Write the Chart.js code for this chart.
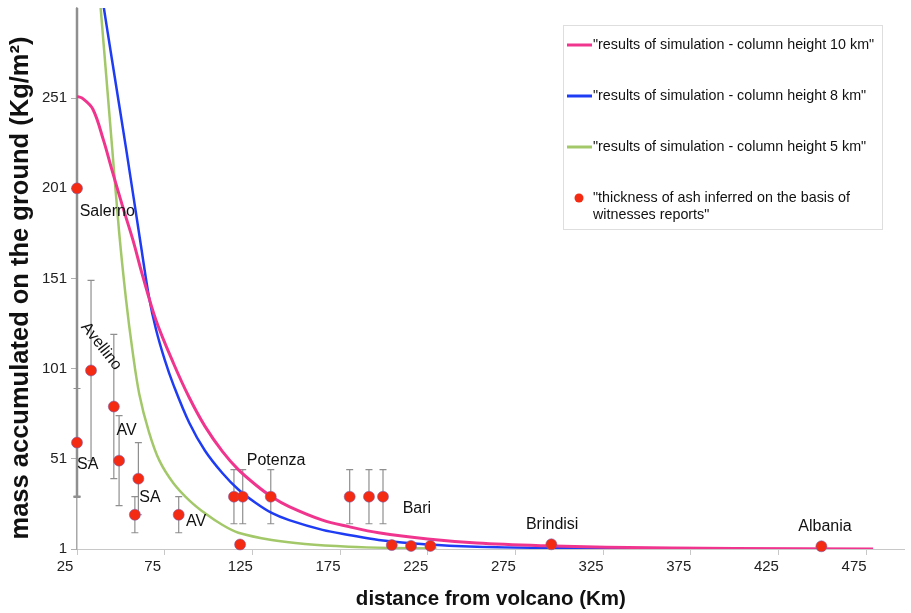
<!DOCTYPE html>
<html>
<head>
<meta charset="utf-8">
<script src="https://cdn.jsdelivr.net/npm/chart.js@4.4.0/dist/chart.umd.min.js"></script>
<style>
  html, body { margin: 0; padding: 0; background: #fff; }
  canvas { display: block; }
</style>
</head>
<body>
<canvas id="chart" width="911" height="613"></canvas>
<script>
// simulated deposit, column height 10 km
const sim10Distance = [25, 28, 34, 40, 45, 51, 57, 62, 70, 80, 89, 98, 108, 117, 127, 136, 146, 165, 180, 197, 225, 253, 291, 327, 400, 479];
const sim10Mass = [252, 251, 245, 228, 211, 191, 172, 154, 128, 104, 85, 69, 55, 45, 36.5, 30, 24.5, 17, 13.4, 10, 6.5, 4.3, 2.8, 2, 1.3, 1];

// column height 8 km
const sim8Distance = [37, 40, 45, 53, 61.5, 66, 70, 75, 80, 89, 98, 108, 117, 127, 136, 146, 165, 180, 197, 225, 253, 291, 330, 400];
const sim8Mass = [322, 303, 272, 223, 169, 141, 123, 106, 92, 71, 55.5, 43, 34, 26.5, 21, 17, 11.6, 8.8, 6, 3.5, 2.3, 1.6, 1.3, 1.1];

// column height 5 km
const sim5Distance = [36.8, 38.4, 45, 49, 53, 56.5, 60.5, 66, 72, 80, 89, 98, 108, 117, 136, 155, 180, 205, 230];
const sim5Mass = [320, 302, 224, 177, 139, 112, 87, 66, 50, 37.5, 28, 20.8, 14.3, 10, 6, 3.8, 2.3, 1.6, 1.3];

// witnesses reports (value +/- error)
const obsDistance = [25, 25, 33, 46, 49, 58, 60, 83, 114.5, 118, 119.5, 135.5, 180.5, 191.5, 199.5, 204.5, 215.5, 226.5, 295.5, 449.5];
const obsMass = [201, 60, 100, 80, 50, 20, 40, 20, 30, 3.5, 30, 30, 30, 30, 30, 3.2, 2.7, 2.7, 3.6, 2.5];
const obsError = [171, 30, 50, 40, 25, 10, 20, 10, 15, 0, 15, 15, 15, 15, 15, 0, 0, 0, 0, 0];

const xTicks = [25, 75, 125, 175, 225, 275, 325, 375, 425, 475];
const yTicks = [1, 51, 101, 151, 201, 251];

const seriesNames = [
  '"thickness of ash inferred on the basis of\nwitnesses reports"',
  '"results of simulation - column height 10 km"',
  '"results of simulation - column height 8 km"',
  '"results of simulation - column height 5 km"'
];

const yTitle = 'mass accumulated on the ground (Kg/m²)';

const family = '"Liberation Sans", Arial, Helvetica, sans-serif';

const toPoints = (xs, ys) => xs.map((v, i) => ({ x: v, y: ys[i] }));

const errorBars = {
  id: 'errorBars',
  beforeDatasetsDraw(chart) {
    const { ctx, chartArea, scales: { x, y } } = chart;
    ctx.save();
    ctx.beginPath();
    ctx.rect(chartArea.left - 10, chartArea.top, chartArea.width + 20, chartArea.height);
    ctx.clip();
    ctx.strokeStyle = '#8f8f8f';
    obsDistance.forEach((d, i) => {
      const e = obsError[i];
      if (!e) return;
      const px = x.getPixelForValue(d);
      const top = y.getPixelForValue(obsMass[i] + e);
      const bot = y.getPixelForValue(obsMass[i] - e);
      ctx.lineWidth = e > 100 ? 2.5 : 1.2;
      ctx.beginPath();
      ctx.moveTo(px, top); ctx.lineTo(px, bot);
      ctx.moveTo(px - 3.5, top); ctx.lineTo(px + 3.5, top);
      ctx.moveTo(px - 3.5, bot); ctx.lineTo(px + 3.5, bot);
      ctx.stroke();
    });
    ctx.restore();
  }
};

const placeNames = {
  id: 'placeNames',
  afterDatasetsDraw(chart, args, opts) {
    const { ctx, scales: { x, y } } = chart;
    ctx.save();
    ctx.font = '16px ' + family;
    ctx.fillStyle = '#111';
    ctx.textBaseline = 'middle';
    opts.tags.forEach(t => {
      ctx.save();
      ctx.translate(x.getPixelForValue(t.x), y.getPixelForValue(t.y));
      ctx.rotate((t.angle || 0) * Math.PI / 180);
      ctx.textAlign = t.angle ? 'center' : 'left';
      ctx.fillText(t.text, 0, 0);
      ctx.restore();
    });
    ctx.restore();
  }
};

// y title drawn by hand: in the original it sits a bit below the axis middle
const sideTitle = {
  id: 'sideTitle',
  afterDraw(chart) {
    const ctx = chart.ctx;
    ctx.save();
    ctx.translate(21, 288);
    ctx.rotate(-Math.PI / 2);
    ctx.font = 'bold 25.5px ' + family;
    ctx.fillStyle = '#111';
    ctx.textAlign = 'center';
    ctx.textBaseline = 'middle';
    ctx.fillText(yTitle, 0, 0);
    ctx.restore();
  }
};

const boxLegend = {
  id: 'boxLegend',
  afterDraw(chart) {
    const ctx = chart.ctx;
    const ds = chart.data.datasets;
    ctx.save();
    ctx.fillStyle = '#fff';
    ctx.fillRect(563, 25, 320, 205);
    ctx.strokeStyle = '#dedede';
    ctx.lineWidth = 1;
    ctx.strokeRect(563.5, 25.5, 319, 204);
    ctx.font = '14.3px ' + family;
    ctx.fillStyle = '#111';
    ctx.textBaseline = 'middle';
    ctx.textAlign = 'left';
    const rows = [45, 96, 147];
    [1, 2, 3].forEach((k, i) => {
      ctx.strokeStyle = ds[k].borderColor;
      ctx.lineWidth = 3;
      ctx.beginPath();
      ctx.moveTo(567, rows[i]);
      ctx.lineTo(592, rows[i]);
      ctx.stroke();
      ctx.fillText(ds[k].label, 593, rows[i]);
    });
    ctx.fillStyle = ds[0].backgroundColor;
    ctx.beginPath();
    ctx.arc(579, 198, 4.5, 0, Math.PI * 2);
    ctx.fill();
    ctx.fillStyle = '#111';
    ds[0].label.split('\n').forEach((line, i) => ctx.fillText(line, 593, 198 + i * 17));
    ctx.restore();
  }
};

const lineStyle = {
  showLine: true,
  pointRadius: 0,
  tension: 0.35,
  clip: 0
};

const ctx = document.getElementById('chart').getContext('2d');
new Chart(ctx, {
  type: 'scatter',
  data: {
    datasets: [
      {
        label: seriesNames[0],
        data: toPoints(obsDistance, obsMass),
        backgroundColor: '#f52a12',
        borderColor: 'rgba(120,90,170,0.7)',
        borderWidth: 0.8,
        pointRadius: 5.5,
        clip: false
      },
      Object.assign({
        label: seriesNames[1],
        data: toPoints(sim10Distance, sim10Mass),
        borderColor: '#f0358f',
        borderWidth: 3
      }, lineStyle),
      Object.assign({
        label: seriesNames[2],
        data: toPoints(sim8Distance, sim8Mass),
        borderColor: '#1f3cf5',
        borderWidth: 2.5
      }, lineStyle),
      Object.assign({
        label: seriesNames[3],
        data: toPoints(sim5Distance, sim5Mass),
        borderColor: '#a3c86a',
        borderWidth: 2.5
      }, lineStyle)
    ]
  },
  options: {
    responsive: false,
    animation: false,
    layout: { padding: { top: 8, right: 0, left: 0, bottom: 0 } },
    scales: {
      x: {
        type: 'linear',
        min: 25,
        max: 497,
        afterBuildTicks: s => { s.ticks = xTicks.map(v => ({ value: v })); },
        afterFit: s => { s.height = 64; s.paddingLeft = 0; s.paddingRight = 0; },
        ticks: { font: { size: 15, family }, color: '#222', labelOffset: -12, padding: 3, maxRotation: 0, autoSkip: false },
        grid: { drawOnChartArea: false, tickLength: 6, color: '#c8c8c8' },
        border: { color: '#c8c8c8', width: 1 },
        title: {
          display: true,
          text: 'distance from volcano (Km)',
          font: { size: 20.5, weight: 'bold', family },
          color: '#111',
          padding: { top: 0, bottom: 1 }
        }
      },
      y: {
        min: 1,
        max: 301,
        afterBuildTicks: s => { s.ticks = yTicks.map(v => ({ value: v })); },
        afterFit: s => { s.width = 77; s.paddingTop = 0; s.paddingBottom = 0; },
        ticks: { font: { size: 15, family }, color: '#222', padding: 4 },
        grid: { drawOnChartArea: false, tickLength: 6, color: '#b0b0b0' },
        border: { color: '#a8a8a8', width: 1.5 }
      }
    },
    plugins: {
      legend: { display: false },
      tooltip: { enabled: false },
      placeNames: {
        tags: [
          { text: 'Salerno', x: 26.5, y: 188 },
          { text: 'SA', x: 25, y: 47.7 },
          { text: 'Avellino', x: 38.8, y: 113.4, angle: 52 },
          { text: 'AV', x: 47.5, y: 66.6 },
          { text: 'SA', x: 60.5, y: 29.3 },
          { text: 'AV', x: 87.2, y: 16 },
          { text: 'Potenza', x: 121.8, y: 49.9 },
          { text: 'Bari', x: 210.7, y: 23.2 },
          { text: 'Brindisi', x: 281, y: 14.3 },
          { text: 'Albania', x: 436.3, y: 13.2 }
        ]
      }
    }
  },
  plugins: [errorBars, placeNames, sideTitle, boxLegend]
});
</script>
</body>
</html>
